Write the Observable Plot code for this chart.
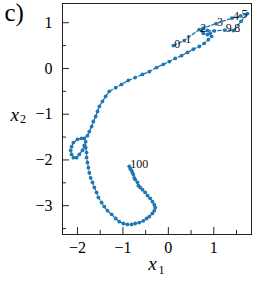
<!DOCTYPE html>
<html><head><meta charset="utf-8">
<script src="https://cdn.jsdelivr.net/npm/d3@7"></script>
<script src="https://cdn.jsdelivr.net/npm/@observablehq/plot@0.6"></script>
<style>html,body{margin:0;padding:0;background:#fff}#chart svg{display:block}</style>
</head><body><div id="chart"></div>
<script>
const xs = [0.11,0.35,0.68,1.05,1.40,1.59,1.74,1.60,1.43,1.24,1.01,
  0.86,0.77,0.73,0.77,0.86,0.92,0.95,
  0.88,0.79,0.68,0.55,0.42,0.29,0.15,0.02,-0.11,-0.26,-0.42,-0.57,-0.73,-0.88,-1.03,-1.16,-1.30,-1.38,-1.45,-1.52,
  -1.56,-1.60,-1.65,-1.69,-1.74,-1.78,-1.85,
  -1.91,-2.00,-2.09,-2.13,-2.15,-2.13,-2.09,-2.02,-1.96,-1.89,-1.85,-1.82,
  -1.82,-1.80,-1.80,-1.78,-1.76,-1.74,-1.71,-1.67,-1.63,-1.58,-1.54,-1.47,-1.41,-1.34,-1.25,-1.16,-1.08,-0.99,-0.90,-0.81,
  -0.73,-0.64,-0.55,-0.48,-0.42,-0.35,-0.31,-0.29,-0.31,-0.35,-0.40,-0.46,-0.51,-0.57,-0.62,-0.66,-0.68,-0.73,-0.75,-0.77,-0.79,-0.81,-0.84,-0.86];
const ys = [0.50,0.61,0.85,0.98,1.10,1.15,1.20,1.03,0.83,0.84,0.82,
  0.83,0.88,0.83,0.77,0.74,0.77,0.70,
  0.63,0.55,0.48,0.42,0.35,0.28,0.22,0.15,0.09,0.02,-0.07,-0.13,-0.20,-0.26,-0.35,-0.42,-0.50,-0.61,-0.72,-0.83,
  -0.94,-1.05,-1.16,-1.27,-1.38,-1.47,-1.53,
  -1.53,-1.55,-1.62,-1.71,-1.79,-1.88,-1.95,-1.95,-1.88,-1.79,-1.68,-1.60,
  -1.73,-1.84,-1.95,-2.06,-2.17,-2.28,-2.39,-2.49,-2.60,-2.71,-2.82,-2.93,-3.02,-3.11,-3.19,-3.28,-3.35,-3.39,-3.41,-3.41,
  -3.39,-3.37,-3.33,-3.28,-3.24,-3.17,-3.11,-3.04,-2.98,-2.91,-2.84,-2.78,-2.71,-2.65,-2.60,-2.56,-2.49,-2.43,-2.39,-2.32,-2.28,-2.23,-2.19,-2.14];
const labeled = [0,1,2,3,4,5,8,9,100];
const xMajor = [-2,-1,0,1];
const xMinor = [-1.5,-0.5,0.5,1.5];
const yMajor = [-3,-2,-1,0,1];
const yMinor = [-3.5,-2.5,-1.5,-0.5,0.5];
const panelLabel = "c)";
const xLabel = ["x","1"];
const yLabel = ["x","2"];

const pts = xs.map((x, i) => ({i, x, y: ys[i]}));
const W = 254, H = 284, mL = 62, mR = 3, mT = 3, mB = 50;
const fw = W - mL - mR, fh = H - mT - mB;
const serif = '"Liberation Serif","Times New Roman","DejaVu Serif",serif';
const blue = "#1f77b4";
const ink = "#222";

const chart = Plot.plot({
  width: W, height: H,
  marginLeft: mL, marginRight: mR, marginTop: mT, marginBottom: mB,
  style: {background: "#fff", color: "#000", fontFamily: serif},
  x: {domain: [-2.33, 1.83]},
  y: {domain: [-3.63, 1.42]},
  marks: [
    Plot.axisX(xMajor, {tickSize: 0, tickPadding: 7, fontSize: 16, label: null, fill: "#000"}),
    Plot.axisY(yMajor, {tickSize: 0, tickPadding: 10, fontSize: 16, label: null, fill: "#000"}),
    Plot.ruleX(xMajor, {x: d => d, insetTop: fh - 7, stroke: ink}),
    Plot.ruleX(xMinor, {x: d => d, insetTop: fh - 4, stroke: ink}),
    Plot.ruleY(yMajor, {y: d => d, insetRight: fw - 7, stroke: ink}),
    Plot.ruleY(yMinor, {y: d => d, insetRight: fw - 4, stroke: ink}),
    Plot.frame({stroke: ink}),
    Plot.line(pts, {x: "x", y: "y", stroke: blue, strokeWidth: 1.3, strokeDasharray: "3.5,2"}),
    Plot.dot(pts, {x: "x", y: "y", r: 1.9, fill: blue, stroke: null}),
    Plot.text(pts.filter(p => labeled.includes(p.i)), {x: "x", y: "y", text: p => String(p.i),
      textAnchor: "start", lineAnchor: "bottom", dx: 1, dy: 2, fontSize: 12, fill: "#111"}),
    Plot.text([panelLabel], {frameAnchor: "top-left", text: d => d, dx: -58, dy: 0,
      lineAnchor: "top", textAnchor: "start", fontSize: 25, fill: "#000"}),
    Plot.text([xLabel[0]], {frameAnchor: "bottom", text: d => d, dx: -4.5, dy: 35, fontStyle: "italic", fontSize: 19, fill: "#000"}),
    Plot.text([xLabel[1]], {frameAnchor: "bottom", text: d => d, dx: 4.5, dy: 39, fontSize: 12, fill: "#000"}),
    Plot.text([yLabel[0]], {frameAnchor: "left", text: d => d, dx: -52, dy: -4, fontStyle: "italic", fontSize: 19, fill: "#000"}),
    Plot.text([yLabel[1]], {frameAnchor: "left", text: d => d, dx: -42.5, dy: 0.5, fontSize: 12, fill: "#000"})
  ]
});
document.getElementById("chart").appendChild(chart);
</script>
</body></html>
